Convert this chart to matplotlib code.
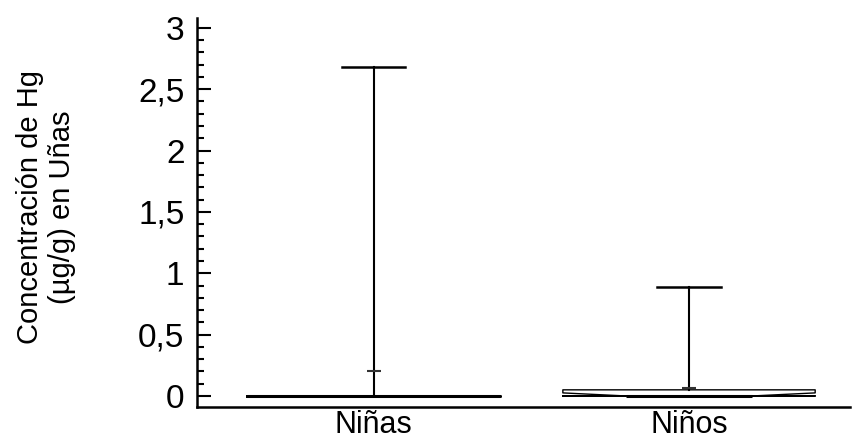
import matplotlib
matplotlib.use("Agg")
import matplotlib.pyplot as plt
from matplotlib.ticker import FuncFormatter, MultipleLocator

plt.rcParams['font.family'] = ['Liberation Sans', 'DejaVu Sans']

categories = ["Niñas", "Niños"]
whislo = [0.0, 0.0]
q1 = [0.0, 0.0]
med = [0.0, 0.0]
q3 = [0.0, 0.05]
whishi = [2.68, 0.89]
means = [0.205, 0.065]
cilo = [0.0, 0.0]
cihi = [0.0, 0.025]
notched = [False, True]

fig = plt.figure(figsize=(8.55, 4.44), dpi=100)
ax = fig.add_axes([0.2304, 0.0833, 0.7636, 0.8762])

for i, c in enumerate(categories):
    st = dict(label=c, whislo=whislo[i], q1=q1[i], med=med[i], q3=q3[i],
              whishi=whishi[i], mean=means[i], cilo=cilo[i], cihi=cihi[i], fliers=[])
    ax.bxp([st], positions=[i + 1], widths=0.8, showmeans=True, meanline=False,
           shownotches=notched[i], capwidths=0.2, patch_artist=False,
           boxprops=dict(color='black', linewidth=1.0 if notched[i] else 2.0),
           whiskerprops=dict(color='black', linewidth=1.5),
           capprops=dict(color='black', linewidth=1.8),
           medianprops=dict(color='black', linewidth=2.2),
           meanprops=dict(marker='_', markersize=10, markeredgecolor='#333333',
                          markeredgewidth=1.5))

ax.set_xlim(0.44, 2.51)
ax.set_ylim(-0.09, 3.08)
ax.yaxis.set_major_locator(MultipleLocator(0.5))
ax.yaxis.set_minor_locator(MultipleLocator(0.1))
ax.yaxis.set_major_formatter(FuncFormatter(lambda v, p: f"{v:g}".replace('.', ',')))
ax.tick_params(axis='y', which='major', direction='in', length=10, width=1.5, labelsize=24, pad=9)
ax.tick_params(axis='y', which='minor', direction='in', length=5, width=1.5)
ax.tick_params(axis='x', length=0, labelsize=22, pad=2)
ax.set_xticks([1, 2], categories)

for s in ['top', 'right']:
    ax.spines[s].set_visible(False)
for s in ['left', 'bottom']:
    ax.spines[s].set_linewidth(1.8)

ax.set_ylabel("Concentración de Hg\n(µg/g) en Uñas", fontsize=21, linespacing=1.2)
ax.yaxis.set_label_coords(-0.185, 0.514)

fig.savefig("out.png", dpi=100)
